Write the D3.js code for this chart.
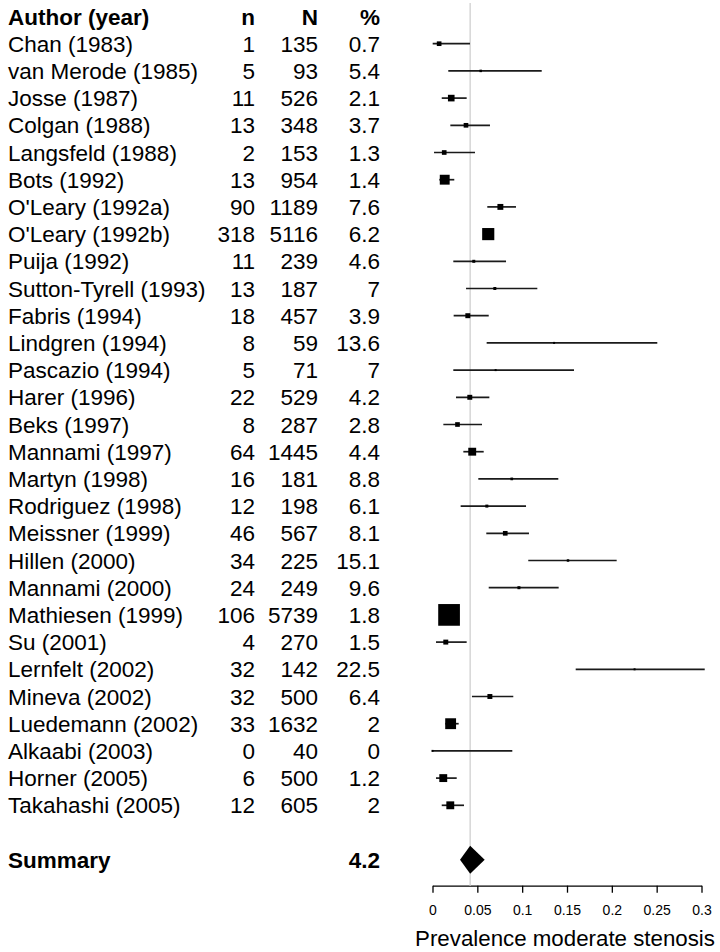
<!DOCTYPE html>
<html>
<head>
<meta charset="utf-8">
<script src="https://cdn.jsdelivr.net/npm/d3@7"></script>
<style>
  body { margin: 0; background: #fff; }
  svg { display: block; font-family: 'Liberation Sans', Arial, sans-serif; }
</style>
</head>
<body>
<svg></svg>
<script>
// study table
let authors = ['Chan (1983)', 'van Merode (1985)', 'Josse (1987)', 'Colgan (1988)', 'Langsfeld (1988)',
  'Bots (1992)', "O'Leary (1992a)", "O'Leary (1992b)", 'Puija (1992)', 'Sutton-Tyrell (1993)',
  'Fabris (1994)', 'Lindgren (1994)', 'Pascazio (1994)', 'Harer (1996)', 'Beks (1997)',
  'Mannami (1997)', 'Martyn (1998)', 'Rodriguez (1998)', 'Meissner (1999)', 'Hillen (2000)',
  'Mannami (2000)', 'Mathiesen (1999)', 'Su (2001)', 'Lernfelt (2002)', 'Mineva (2002)',
  'Luedemann (2002)', 'Alkaabi (2003)', 'Horner (2005)', 'Takahashi (2005)']
let cases = [1, 5, 11, 13, 2, 13, 90, 318, 11, 13, 18, 8, 5, 22, 8, 64, 16, 12, 46, 34, 24, 106, 4, 32, 32, 33, 0, 6, 12]
let totals = [135, 93, 526, 348, 153, 954, 1189, 5116, 239, 187, 457, 59, 71, 529, 287, 1445, 181, 198, 567, 225, 249, 5739, 270, 142, 500, 1632, 40, 500, 605]
let percents = ['0.7', '5.4', '2.1', '3.7', '1.3', '1.4', '7.6', '6.2', '4.6', '7', '3.9', '13.6', '7', '4.2', '2.8',
  '4.4', '8.8', '6.1', '8.1', '15.1', '9.6', '1.8', '1.5', '22.5', '6.4', '2', '0', '1.2', '2']
let lower = [0.0002, 0.0176, 0.0103, 0.0199, 0.0017, 0.0076, 0.0611, 0.0570, 0.0232, 0.0374, 0.0236, 0.0604, 0.0232,
  0.0262, 0.0121, 0.0344, 0.0511, 0.0314, 0.0600, 0.1068, 0.0627, 0.0160, 0.0039, 0.1597, 0.0440, 0.0143, 0,
  0.0039, 0.0103]
let upper = [0.0418, 0.1218, 0.0381, 0.0641, 0.0474, 0.0243, 0.0931, 0.0680, 0.0820, 0.1169, 0.0627, 0.2507, 0.1578,
  0.0634, 0.0552, 0.0571, 0.1403, 0.1043, 0.1076, 0.2054, 0.1407, 0.0200, 0.0381, 0.3036, 0.0901, 0.0292, 0.0890,
  0.0270, 0.0351]
let weights = [4.6, 1.3, 9.3, 4.6, 4.6, 20.7, 7.4, 31.3, 1.9, 1.9, 5.2, 0.5, 0.5, 5.2, 4.6, 13.2, 1.5, 1.9, 4.6, 1.3,
  1.9, 100, 5.2, 0.4, 5.2, 25, 0.8, 13.2, 13.2]

let summary = { label: 'Summary', percent: '4.2', est: 0.042, lo: 0.0307, hi: 0.0582 }

let headers = ['Author (year)', 'n', 'N', '%']
let xTicks = [0, 0.05, 0.1, 0.15, 0.2, 0.25, 0.3]
let xTitle = 'Prevalence moderate stenosis'

let width = 720
let height = 952
let fontSize = 22.5

let rows = authors.map((a, i) => ({
  author: a, n: cases[i], N: totals[i], pct: percents[i],
  est: cases[i] / totals[i], lo: lower[i], hi: upper[i], w: weights[i]
}))

let svg = d3.select('svg').attr('width', width).attr('height', height)

// row positions: header, studies, blank gap, summary
let rowKeys = ['header'].concat(authors, ['gap', 'summary'])
let yScale = d3.scalePoint().domain(rowKeys).range([16.5, 859.7])
let xScale = d3.scaleLinear().domain([0, 0.3]).range([432.5, 701.5])
let boxScale = d3.scaleSqrt().domain([0, d3.max(weights)]).range([0, 21.7])

let colX = [8, 255, 318, 380]

// text columns
let drawTable = () => {
  let g = svg.append('g').attr('font-size', fontSize).attr('fill', '#000')

  g.selectAll('.head')
   .data(headers)
   .enter()
   .append('text')
   .attr('class', 'head')
   .attr('x', (d, i) => colX[i])
   .attr('y', yScale('header'))
   .attr('dy', '0.36em')
   .attr('font-weight', 'bold')
   .attr('text-anchor', (d, i) => i == 0 ? 'start' : 'end')
   .text(d => d)

  let r = g.selectAll('.row')
           .data(rows)
           .enter()
           .append('g')
           .attr('class', 'row')
           .attr('transform', d => 'translate(0,' + yScale(d.author) + ')')

  r.append('text').attr('x', colX[0]).attr('dy', '0.36em').text(d => d.author)
  r.append('text').attr('x', colX[1]).attr('dy', '0.36em').attr('text-anchor', 'end').text(d => d.n)
  r.append('text').attr('x', colX[2]).attr('dy', '0.36em').attr('text-anchor', 'end').text(d => d.N)
  r.append('text').attr('x', colX[3]).attr('dy', '0.36em').attr('text-anchor', 'end').text(d => d.pct)

  g.append('text')
   .attr('x', colX[0])
   .attr('y', yScale('summary'))
   .attr('dy', '0.36em')
   .attr('font-weight', 'bold')
   .text(summary.label)

  g.append('text')
   .attr('x', colX[3])
   .attr('y', yScale('summary'))
   .attr('dy', '0.36em')
   .attr('font-weight', 'bold')
   .attr('text-anchor', 'end')
   .text(summary.percent)
}

let drawAxis = () => {
  let axisY = 885.7
  let xAxis = d3.axisBottom(xScale)
                .tickValues(xTicks)
                .tickFormat(d => String(d))
                .tickSizeInner(7)
                .tickSizeOuter(0)
                .tickPadding(12)

  let ax = svg.append('g')
              .attr('transform', 'translate(0,' + axisY + ')')
              .call(xAxis)
  ax.selectAll('path, line').attr('stroke', '#000').attr('stroke-width', 1.3)
  ax.selectAll('text')
    .attr('fill', '#000')
    .attr('font-size', 14)
    .attr('font-family', "'Liberation Sans', Arial, sans-serif")

  svg.append('text')
     .attr('x', 565)
     .attr('y', 946)
     .attr('text-anchor', 'middle')
     .attr('font-size', 22.3)
     .attr('fill', '#000')
     .text(xTitle)

  // reference line at the summary estimate
  svg.append('line')
     .attr('x1', xScale(summary.est))
     .attr('x2', xScale(summary.est))
     .attr('y1', 3)
     .attr('y2', axisY)
     .attr('stroke', '#d3d3d3')
     .attr('stroke-width', 1.4)
}

let drawPoints = () => {
  let g = svg.append('g')

  g.selectAll('.ci')
   .data(rows)
   .enter()
   .append('line')
   .attr('class', 'ci')
   .attr('x1', d => xScale(d.lo))
   .attr('x2', d => xScale(d.hi))
   .attr('y1', d => yScale(d.author))
   .attr('y2', d => yScale(d.author))
   .attr('stroke', '#1a1a1a')
   .attr('stroke-width', 1.7)

  g.selectAll('.box')
   .data(rows)
   .enter()
   .append('rect')
   .attr('class', 'box')
   .attr('x', d => xScale(d.est) - Math.max(boxScale(d.w), 2) / 2)
   .attr('y', d => yScale(d.author) - Math.max(boxScale(d.w), 2) / 2)
   .attr('width', d => Math.max(boxScale(d.w), 2))
   .attr('height', d => Math.max(boxScale(d.w), 2))
   .attr('fill', '#000')

  let cy = yScale('summary')
  let half = 14
  g.append('polygon')
   .attr('points', [
     [xScale(summary.lo), cy], [xScale(summary.est), cy - half],
     [xScale(summary.hi), cy], [xScale(summary.est), cy + half]
   ].map(p => p.join(',')).join(' '))
   .attr('fill', '#000')
}

drawAxis()
drawTable()
drawPoints()
</script>
</body>
</html>
